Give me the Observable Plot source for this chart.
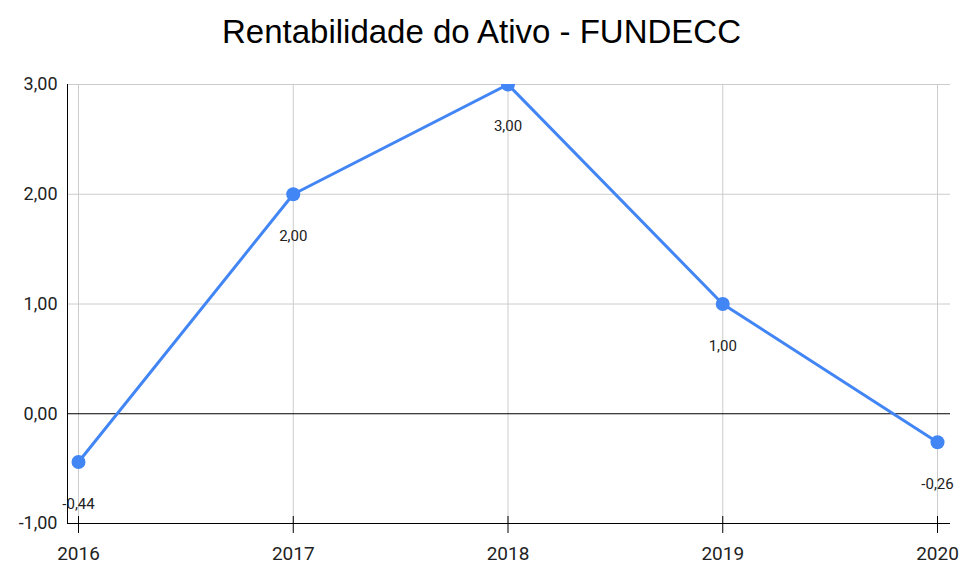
<!DOCTYPE html>
<html><head><meta charset="utf-8">
<script src="https://cdn.jsdelivr.net/npm/d3@7"></script>
<script src="https://cdn.jsdelivr.net/npm/@observablehq/plot@0.6"></script>
<style>
body{margin:0;background:#fff;font-family:Roboto,sans-serif;}
#title{height:66px;line-height:64px;text-align:center;font-size:33px;color:#000;font-family:"Liberation Sans",Arial,sans-serif;}
</style></head>
<body>
<div id="title">Rentabilidade do Ativo - FUNDECC</div>
<div id="chart"></div>
<script>
const years = [2016, 2017, 2018, 2019, 2020];
const values = [-0.44, 2.00, 3.00, 1.00, -0.26];
const yTicks = [-1, 0, 1, 2, 3];
const data = years.map((y, i) => ({year: y, value: values[i]}));
const fmt = v => v.toFixed(2).replace(".", ",");

const chart = Plot.plot({
  width: 963,
  height: 499,
  marginTop: 18,
  marginBottom: 42,
  marginLeft: 67,
  marginRight: 13,
  style: {fontFamily: "Roboto, sans-serif", background: "#fff"},
  x: {domain: [2016, 2020], insetLeft: 11, insetRight: 13, label: null},
  y: {domain: [-1, 3], label: null},
  marks: [
    Plot.ruleY(yTicks.filter(d => d > 0), {y: d => d, stroke: "#ccc"}),
    Plot.ruleX(years, {x: d => d, stroke: "#ccc"}),
    Plot.ruleY([0], {stroke: "#000"}),
    Plot.ruleY([-1], {stroke: "#000"}),
    Plot.axisY({ticks: yTicks, tickSize: 0, tickPadding: 10, fontSize: 18, tickFormat: fmt, fill: "#222", label: null}),
    Plot.axisX({ticks: years, tickSize: 0, tickPadding: 23, fontSize: 19, tickFormat: d => String(d), fill: "#222", label: null}),
    Plot.ruleX(years, {x: d => d, y1: -1, y2: -1, insetTop: 10, insetBottom: 7, stroke: "#000"}),
    Plot.frame({anchor: "left", stroke: "#000"}),
    Plot.line(data, {x: "year", y: "value", stroke: "#4285F4", strokeWidth: 3, clip: "frame"}),
    Plot.dot(data, {x: "year", y: "value", r: 7, fill: "#4285F4", clip: "frame"}),
    Plot.text(data, {x: "year", y: "value", text: d => fmt(d.value), dy: 42, fontSize: 15, fill: "#222"})
  ]
});
document.getElementById("chart").appendChild(chart);
</script>
</body></html>
